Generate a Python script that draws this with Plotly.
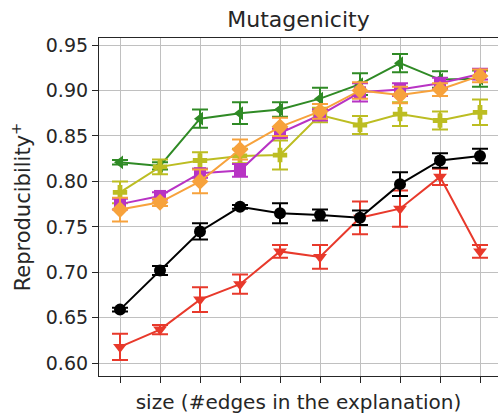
import plotly.graph_objects as go

x_pos = list(range(10))

green = [0.821, 0.817, 0.869, 0.875, 0.879, 0.891, 0.907, 0.930, 0.912, 0.913]
green_err = [0.0025, 0.004, 0.010, 0.012, 0.008, 0.012, 0.012, 0.010, 0.009, 0.009]

olive = [0.788, 0.816, 0.823, 0.828, 0.829, 0.873, 0.862, 0.874, 0.867, 0.876]
olive_err = [0.012, 0.008, 0.009, 0.008, 0.016, 0.008, 0.010, 0.013, 0.010, 0.014]

purple = [0.775, 0.784, 0.809, 0.812, 0.853, 0.873, 0.898, 0.901, 0.908, 0.918]
purple_err = [0.006, 0.004, 0.005, 0.007, 0.005, 0.006, 0.010, 0.007, 0.006, 0.006]

orange = [0.769, 0.777, 0.800, 0.835, 0.860, 0.877, 0.900, 0.895, 0.901, 0.916]
orange_err = [0.013, 0.004, 0.013, 0.011, 0.010, 0.008, 0.009, 0.009, 0.007, 0.007]

black = [0.659, 0.702, 0.745, 0.772, 0.765, 0.763, 0.760, 0.797, 0.823, 0.828]
black_err = [0.002, 0.005, 0.009, 0.002, 0.011, 0.006, 0.008, 0.013, 0.008, 0.008]

red = [0.618, 0.637, 0.670, 0.687, 0.723, 0.717, 0.760, 0.770, 0.805, 0.723]
red_err = [0.0145, 0.005, 0.0135, 0.0105, 0.007, 0.013, 0.018, 0.020, 0.009, 0.007]

y_ticks = [0.60, 0.65, 0.70, 0.75, 0.80, 0.85, 0.90, 0.95]

series = [
    (red, red_err, "#e8392b", "triangle-down"),
    (black, black_err, "#000000", "circle"),
    (green, green_err, "#2f8a25", "triangle-left"),
    (olive, olive_err, "#bcbd22", "cross"),
    (purple, purple_err, "#b833c4", "square"),
    (orange, orange_err, "#f7a23c", "diamond"),
]

fig = go.Figure()
for vals, errs, col, sym in series:
    fig.add_trace(go.Scatter(
        x=x_pos, y=vals,
        mode="lines+markers",
        line=dict(color=col, width=2),
        marker=dict(color=col, symbol=sym, size=12 if sym != "diamond" else 13),
        error_y=dict(type="data", array=errs, visible=True, color=col, thickness=2, width=8),
        showlegend=False,
    ))

font_family = "DejaVu Sans"
fig.update_layout(
    width=498, height=414,
    margin=dict(l=99, r=0, t=38, b=38),
    plot_bgcolor="white", paper_bgcolor="white",
    font=dict(family=font_family, color="#262626", size=19),
    title=dict(text="Mutagenicity", x=0.5, xanchor="center", xref="paper",
               y=1 - 19/414, yanchor="middle", font=dict(size=22, color="#262626")),
    xaxis=dict(
        range=[-0.525, 9.45],
        tickvals=x_pos, showticklabels=False,
        ticks="outside", ticklen=6, tickwidth=1, tickcolor="#262626",
        showgrid=True, gridcolor="#c0c0c0", gridwidth=1,
        showline=True, linecolor="#262626", linewidth=1.2, mirror=True,
        zeroline=False,
        title=dict(text="size (#edges in the explanation)", font=dict(size=20), standoff=12),
    ),
    yaxis=dict(
        range=[0.586, 0.9577],
        tickvals=y_ticks, ticktext=[f"{v:.2f}" for v in y_ticks],
        ticks="outside", ticklen=6, tickwidth=1, tickcolor="#262626",
        showgrid=True, gridcolor="#c0c0c0", gridwidth=1,
        showline=True, linecolor="#262626", linewidth=1.2,
        zeroline=False,
        title=dict(text="Reproducibility<sup>+</sup>", font=dict(size=21), standoff=9),
    ),
)

fig.write_html("out.html")
